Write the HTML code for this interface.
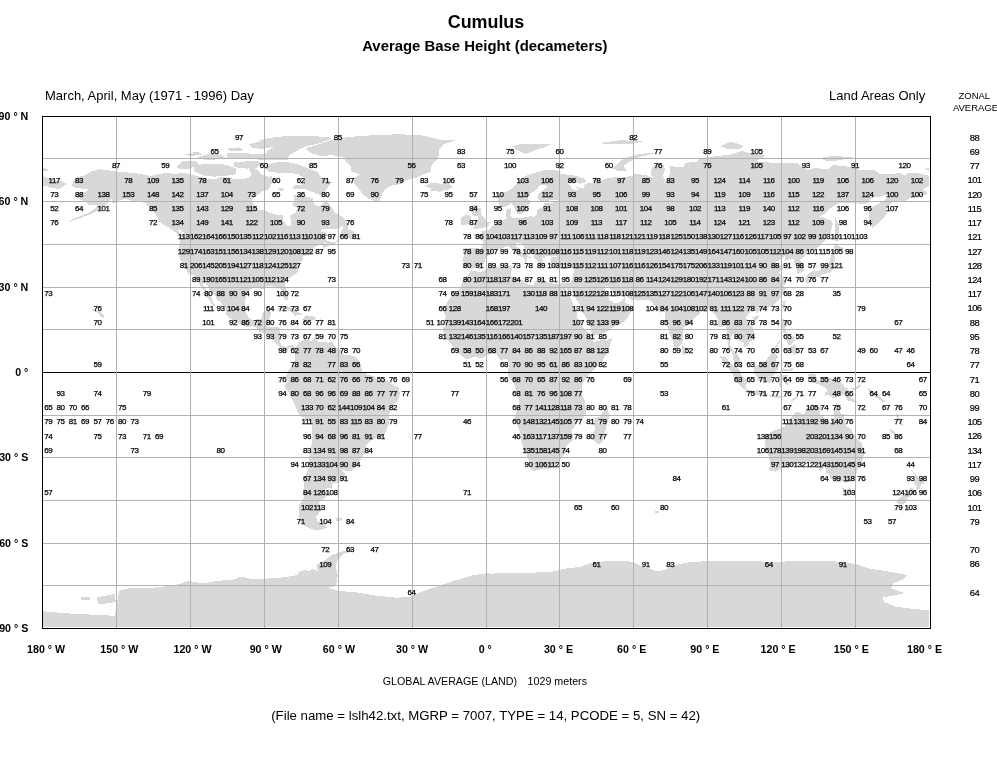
<!DOCTYPE html>
<html lang="en"><head><meta charset="utf-8"><title>Cumulus - Average Base Height (decameters)</title>
<style>
html,body{margin:0;padding:0;background:#fff;}
body{width:997px;height:760px;overflow:hidden;position:relative;font-family:"Liberation Sans",Arial,sans-serif;color:#000;}
svg{will-change:transform;filter:grayscale(1);position:absolute;left:0;top:0;display:block;}
.t1{font:bold 17.9px "Liberation Sans",sans-serif;}
.t2{font:bold 14.9px "Liberation Sans",sans-serif;}
.t3{font:13px "Liberation Sans",sans-serif;}
.t4{font:13.22px "Liberation Sans",sans-serif;}
.ax{font:bold 10.67px "Liberation Sans",sans-serif;}
.sm{font:10.7px "Liberation Sans",sans-serif;}
.zh{font:9.5px "Liberation Sans",sans-serif;}
.n{font:8px "Liberation Sans",sans-serif;letter-spacing:-0.45px;stroke:#000;stroke-width:0.25px;}
.z{font:9.4px "Liberation Sans",sans-serif;letter-spacing:-0.55px;stroke:#000;stroke-width:0.2px;}
</style></head><body>
<svg width="997" height="760" viewBox="0 0 997 760">
<rect x="0" y="0" width="997" height="760" fill="#ffffff"/>
<clipPath id="mapclip"><rect x="43" y="117" width="886" height="510"/></clipPath>
<g fill="#d8d8d8" stroke="none" shape-rendering="crispEdges" clip-path="url(#mapclip)">
<polygon points="42.3,611.2 58.1,612.6 76.1,614.0 98.7,614.9 114.5,615.8 116.7,604.5 119.0,590.9 130.3,587.8 152.8,587.8 175.4,585.1 188.9,581.0 202.5,583.3 220.5,580.6 243.1,578.7 265.7,578.7 283.7,577.4 297.3,575.1 299.5,571.5 306.3,569.7 310.8,572.9 317.6,570.6 316.2,565.2 322.1,561.6 328.9,558.0 335.6,554.8 341.5,551.7 343.3,554.8 337.9,559.3 335.6,566.1 337.9,575.1 335.6,584.2 328.9,587.8 337.9,590.9 355.9,592.3 374.0,595.4 396.6,597.7 410.1,596.8 423.6,590.9 437.2,586.4 455.2,580.6 473.3,575.1 490.0,572.9 490.0,632.0 40.0,632.0 40.0,611.2"/>
<polygon points="80.6,596.8 89.6,596.8 89.6,600.4 80.6,600.4"/>
<polygon points="96.4,597.7 114.5,594.1 115.8,602.2 98.7,604.5"/>
<polygon points="485.0,574.2 503.1,572.9 530.1,572.9 552.7,571.5 566.2,568.4 579.8,567.0 593.3,562.5 611.4,560.7 624.9,560.7 633.9,562.5 640.7,566.1 658.8,571.5 665.5,569.7 674.6,565.2 688.1,562.5 710.7,560.7 737.8,560.7 764.8,561.6 782.9,561.6 800.9,560.7 819.0,560.7 837.0,561.6 855.1,563.9 868.6,568.4 882.2,570.6 895.7,572.9 907.0,575.1 902.5,579.6 893.5,583.3 891.2,588.7 898.0,590.9 904.8,593.2 893.5,595.4 882.2,597.7 884.4,602.2 895.7,606.7 913.8,609.0 929.6,610.3 940.9,611.2 940.9,632.0 485.0,632.0"/>
<polygon points="318.9,586.6 317.2,579.9 320.5,573.2 319.7,568.2 322.2,563.3 327.2,558.3 332.2,554.9 338.9,552.1 345.5,550.6 353.0,548.9 353.8,549.9 345.5,553.3 338.9,555.8 335.5,558.6 334.2,563.3 335.5,569.9 337.5,576.6 336.4,583.2 333.9,587.4"/>
<polygon points="298.1,573.6 303.9,570.9 308.9,571.6 312.2,568.7 315.9,570.7 318.2,575.7 315.5,579.4 305.6,580.2 298.9,578.6"/>
<polygon points="234.0,581.9 239.0,576.6 247.3,577.9 252.3,579.9 265.6,579.9 278.9,579.6 288.9,578.2 295.6,577.4 298.9,579.9 298.9,586.6 234.0,586.6"/>
<polygon points="71.6,185.4 75.3,177.7 83.9,175.7 91.3,171.5 99.9,169.2 111.0,170.6 120.8,172.0 133.2,172.9 140.6,174.0 150.4,176.0 157.8,174.3 167.7,172.9 175.1,174.3 180.0,172.9 187.4,173.5 197.2,176.0 204.6,178.0 209.5,179.1 216.9,178.9 219.4,177.2 226.8,177.7 236.6,179.1 244.0,178.6 249.0,177.7 251.4,174.3 249.0,168.6 253.9,167.2 258.8,171.5 263.8,175.7 268.7,176.6 271.6,176.3 272.4,180.0 271.6,184.3 270.4,186.5 268.7,189.4 263.8,190.5 258.8,194.2 253.9,197.1 251.9,201.3 253.9,205.0 257.6,209.9 263.8,209.9 269.9,212.7 276.1,214.7 282.7,215.3 283.5,221.2 285.9,224.1 288.4,226.4 290.9,225.5 290.9,218.4 289.6,215.6 295.8,212.7 297.0,208.4 292.1,205.0 294.5,201.3 293.3,194.8 300.7,194.8 308.1,197.1 313.0,198.5 314.3,204.2 319.2,206.2 324.1,202.8 326.6,200.2 331.5,207.0 335.2,212.7 342.6,217.0 347.5,222.7 347.5,225.5 341.4,226.4 337.7,229.2 327.8,229.2 321.7,229.2 320.4,231.8 326.6,232.6 326.6,235.5 324.1,236.9 326.6,240.6 330.3,241.7 335.2,242.3 337.7,238.9 337.7,241.7 335.2,243.4 329.0,245.4 322.9,248.3 322.9,245.4 326.6,243.1 320.4,244.0 315.5,246.8 311.8,249.1 310.6,251.7 313.0,253.4 308.1,254.8 303.2,256.5 302.7,259.6 299.5,262.5 298.2,266.8 298.7,269.6 297.0,273.0 293.3,275.6 289.6,278.1 285.9,281.5 284.7,285.2 287.2,292.4 288.4,296.6 287.6,300.0 285.4,300.3 283.5,296.6 281.5,292.4 281.5,289.5 278.5,286.7 274.8,287.2 271.1,285.5 266.2,285.8 265.0,288.9 261.3,288.7 255.1,287.5 251.4,288.9 246.5,292.9 245.8,298.0 244.5,303.7 244.5,308.6 246.5,313.7 249.0,317.4 252.7,320.2 257.6,319.1 261.3,318.5 262.5,313.7 263.8,311.7 269.9,310.8 271.6,312.8 269.9,318.0 268.7,320.8 267.4,325.1 267.4,327.1 273.6,327.1 278.5,327.1 280.5,329.3 279.8,335.0 279.5,340.7 281.5,344.7 283.5,346.4 286.4,346.7 289.6,344.7 293.3,345.5 295.0,347.8 294.5,350.7 292.6,348.7 289.6,347.0 287.6,351.2 284.7,350.7 281.0,348.4 279.3,346.4 276.1,343.6 274.1,341.3 272.4,337.9 269.9,335.0 267.4,334.5 263.8,333.0 260.1,332.2 256.4,327.9 252.7,325.9 249.0,327.3 244.0,325.9 239.1,323.6 234.2,320.8 229.3,318.0 225.6,314.5 226.1,310.8 224.3,306.6 220.6,302.3 216.2,298.9 215.7,296.1 213.2,293.8 209.5,290.1 207.1,285.2 205.8,282.4 202.6,281.5 202.9,285.2 205.8,289.5 208.3,293.8 211.3,298.0 213.2,302.3 215.7,306.0 214.5,306.9 210.8,302.9 209.1,299.5 205.8,295.8 202.6,293.2 204.6,290.9 200.9,286.7 198.5,282.4 196.7,279.3 193.5,275.3 188.6,273.9 185.4,268.7 183.7,264.8 180.5,259.6 179.2,256.8 180.0,252.5 179.2,248.3 180.0,240.6 178.3,234.6 182.4,234.9 183.7,236.9 183.7,232.6 180.0,229.8 173.8,228.6 168.9,227.5 162.7,224.1 159.0,221.2 157.8,217.8 155.3,214.1 152.9,211.3 149.2,207.0 146.7,205.0 145.5,203.3 140.6,201.9 133.2,201.3 125.8,199.1 119.6,199.9 115.9,202.8 111.5,203.6 112.2,198.5 107.3,202.8 104.8,205.6 99.9,209.0 95.0,212.1 90.0,214.4 83.9,216.7 79.0,218.4 74.0,220.1 67.9,222.4 69.1,221.0 74.0,218.7 79.0,216.7 83.9,214.7 88.8,212.7 95.0,209.0 97.4,205.0 93.7,205.0 87.6,204.7 86.3,201.3 80.2,199.9 76.5,196.2 79.0,192.8 86.3,191.4 88.8,188.5 81.4,188.5 75.3,187.7"/>
<polygon points="305.6,148.4 319.2,144.2 332.7,139.6 347.5,137.0 367.2,135.6 399.3,134.2 423.9,135.6 441.1,140.2 455.9,140.2 443.6,144.4 438.7,150.1 438.7,155.8 436.2,160.1 431.3,165.8 431.3,171.5 423.9,174.3 416.5,177.7 406.7,180.0 399.3,184.3 391.9,185.4 385.7,188.5 382.0,194.2 379.6,200.8 374.6,201.3 368.5,198.5 362.3,194.2 358.6,188.5 353.7,182.8 353.7,178.6 359.8,174.3 351.2,171.5 351.2,167.2 347.5,162.9 342.6,157.2 332.7,155.3 320.4,155.8 310.6,153.0"/>
<polygon points="288.4,162.4 298.2,164.4 308.1,168.6 318.0,172.0 321.7,178.6 332.7,182.3 327.8,187.1 324.1,192.8 322.9,195.6 318.0,194.2 310.6,191.4 303.2,188.5 293.3,188.5 293.3,185.7 303.2,184.3 305.6,178.6 298.2,174.3 290.9,172.9 278.5,172.9 268.7,171.5 265.0,168.6 266.2,164.4 276.1,162.4"/>
<polygon points="194.8,165.8 204.6,163.8 219.4,163.8 226.8,164.9 236.6,168.6 235.4,174.3 226.8,175.7 214.5,176.6 204.6,175.7 197.2,172.9 193.5,170.0"/>
<polygon points="176.3,167.2 182.4,160.7 194.8,160.9 199.7,164.4 189.8,168.6 181.2,169.2"/>
<polygon points="197.2,157.2 207.1,154.4 219.4,154.4 225.6,157.2 219.4,159.2 207.1,160.1 199.7,158.7"/>
<polygon points="234.2,162.1 256.4,160.9 262.5,163.5 256.4,167.8 246.5,168.6 234.2,167.2"/>
<polygon points="249.0,153.5 258.8,154.4 268.7,154.4 288.4,156.7 288.4,159.8 273.6,160.4 258.8,159.8 249.0,157.2"/>
<polygon points="229.3,154.4 244.0,153.5 246.5,158.1 236.6,158.7 229.3,157.2"/>
<polygon points="266.2,155.0 276.1,155.0 288.4,155.3 293.3,153.0 300.7,148.7 308.1,145.9 322.9,142.2 332.7,137.9 313.0,135.9 288.4,135.9 268.7,137.9 258.8,140.7 263.8,144.4 273.6,147.3 268.7,150.1 266.2,153.0"/>
<polygon points="249.0,144.4 258.8,141.6 268.7,143.6 271.1,147.3 261.3,149.3 251.4,147.3"/>
<polygon points="184.9,154.4 197.2,151.6 202.2,154.4 189.8,156.4"/>
<polygon points="226.8,148.7 239.1,147.3 244.0,150.1 231.7,151.6"/>
<polygon points="277.3,189.4 281.0,187.4 284.7,189.1 282.2,191.1"/>
<polygon points="339.4,236.6 343.8,225.5 348.8,225.5 347.5,229.8 353.7,231.2 355.4,236.9 352.4,238.9 347.5,238.3 342.6,236.3"/>
<polygon points="169.4,227.5 177.5,229.2 181.2,234.3 177.5,233.5 171.4,229.8"/>
<polygon points="425.1,185.7 431.3,182.8 441.1,183.7 448.5,183.4 452.2,187.1 448.5,189.4 439.9,191.7 430.1,190.5 431.3,188.5 426.4,187.1"/>
<polygon points="276.1,310.0 281.0,306.6 287.2,306.3 295.8,310.6 302.7,314.5 294.5,315.7 293.3,313.1 285.9,309.4 281.0,308.9"/>
<polygon points="301.9,319.9 305.6,315.4 313.0,315.7 316.7,319.1 311.8,320.2 308.1,320.5"/>
<polygon points="292.6,319.7 297.5,320.2 295.8,321.4"/>
<polygon points="319.9,319.4 323.9,319.7 322.9,321.1 319.9,320.8"/>
<polygon points="295.0,347.8 299.5,342.1 301.9,340.7 306.9,338.4 309.3,336.7 308.6,340.7 310.6,341.3 313.0,339.3 313.0,337.3 316.7,340.1 318.0,342.1 322.9,341.8 327.8,342.7 332.7,341.6 333.2,343.6 335.7,347.8 340.1,349.2 343.8,354.9 350.0,355.2 356.1,357.2 358.6,359.8 361.1,366.3 362.3,370.6 362.3,372.0 366.0,373.4 367.2,374.8 374.6,376.3 377.1,379.7 383.2,380.2 389.4,382.0 394.3,385.7 398.8,387.6 399.8,393.3 398.8,399.0 394.3,404.7 390.6,409.0 389.4,414.7 389.4,422.6 386.9,428.9 384.5,434.6 382.0,437.4 375.9,438.0 370.9,440.8 366.5,445.4 365.8,451.6 362.3,457.3 358.6,462.5 354.2,468.1 351.2,471.0 346.3,471.0 341.9,468.7 345.1,474.4 343.8,480.1 338.9,482.4 332.7,482.9 332.0,488.1 325.3,488.6 325.3,492.9 328.6,493.5 324.6,498.6 319.7,501.4 319.2,504.3 323.4,507.1 319.2,512.8 316.0,517.1 317.5,521.0 311.8,521.9 309.3,525.0 301.9,522.8 299.2,518.5 298.5,511.4 298.7,505.7 301.9,501.4 304.4,495.7 303.2,491.5 303.9,485.8 304.9,478.7 306.9,473.0 309.3,465.9 309.3,457.3 310.6,450.2 311.8,443.1 312.5,434.6 312.3,424.6 308.1,420.4 300.7,416.1 297.5,411.8 295.3,406.1 292.1,399.0 288.9,392.8 285.4,389.1 285.2,384.2 288.4,381.4 286.4,378.3 286.4,374.8 288.4,370.6 291.3,367.7 294.5,361.2 294.8,356.4 294.5,352.1 293.3,348.4"/>
<polygon points="310.6,521.3 317.2,520.8 321.7,523.9 327.3,527.0 324.6,529.0 318.0,530.4 310.6,529.0 304.9,526.2 302.4,522.2"/>
<polygon points="335.2,517.9 342.6,517.9 341.4,520.5 336.4,520.5"/>
<polygon points="471.0,270.2 480.6,272.2 488.0,268.2 492.9,267.0 500.3,266.8 507.7,266.2 510.9,266.2 512.6,267.3 511.4,271.0 510.6,274.7 512.6,276.7 516.3,278.4 523.2,280.1 524.2,282.7 529.9,285.2 534.3,285.2 534.8,281.0 538.5,278.4 542.2,279.3 547.1,281.8 552.0,283.3 557.0,284.1 561.9,282.4 565.1,283.0 569.8,283.0 571.5,288.1 570.0,292.4 568.0,290.9 565.8,286.7 565.6,288.1 568.0,292.4 570.5,298.0 573.0,303.7 573.5,306.6 576.7,310.8 577.2,318.0 580.4,320.8 582.8,327.9 586.5,330.8 590.2,335.0 592.2,336.4 591.9,339.3 593.9,342.1 601.3,340.1 606.2,339.9 611.7,338.4 611.4,342.1 608.7,349.2 606.2,354.9 602.5,360.6 598.8,364.9 593.9,369.2 589.0,374.8 586.5,377.7 584.1,380.5 582.1,386.2 581.6,391.9 582.8,396.2 585.3,401.9 585.5,407.6 585.5,414.7 581.6,419.8 576.7,422.6 573.0,428.3 571.2,430.3 572.7,434.6 573.0,440.3 568.0,444.0 566.3,446.0 566.3,451.6 562.6,456.2 559.4,460.7 555.7,464.7 552.0,467.9 548.3,468.7 542.2,468.7 534.8,471.0 530.8,469.6 530.3,464.4 528.1,458.8 526.2,453.4 523.0,447.4 521.2,440.3 521.0,434.6 517.0,424.6 514.6,418.9 516.3,411.8 519.3,403.3 518.3,397.6 515.6,389.1 514.6,384.8 510.1,379.1 507.7,374.3 508.4,369.2 509.4,363.5 507.2,359.2 502.7,359.5 499.8,359.8 496.6,354.1 491.7,354.1 488.0,355.2 481.8,358.3 478.1,357.5 473.2,357.2 467.0,359.5 462.1,356.4 457.2,352.1 453.0,347.0 451.5,344.1 448.5,340.7 444.4,336.7 444.1,332.7 442.4,330.2 444.8,326.5 445.3,319.4 445.6,316.5 443.6,312.3 446.1,305.2 449.0,299.5 452.7,293.8 458.4,290.1 461.4,286.7 461.6,282.4 464.6,277.3 468.7,275.0"/>
<polygon points="607.0,406.1 609.4,416.1 607.5,421.8 605.7,428.9 602.0,442.5 597.6,444.5 593.4,440.3 592.2,434.6 594.9,428.9 593.9,421.8 595.1,418.1 600.1,416.4 603.8,410.4"/>
<polygon points="462.1,266.8 463.6,262.5 462.3,261.1 463.8,255.4 462.8,249.7 465.8,247.7 473.2,248.3 481.1,248.6 482.5,245.4 482.5,241.2 479.3,237.7 473.9,235.5 474.4,233.8 481.6,233.5 481.1,230.6 486.0,231.2 489.4,229.2 491.7,226.6 495.4,224.1 497.3,221.2 502.7,219.8 506.7,219.0 506.0,215.6 505.7,210.4 506.7,209.6 511.4,207.9 510.9,212.7 510.1,215.6 512.6,218.4 516.3,217.3 520.5,218.4 526.2,217.0 531.1,216.1 533.5,217.3 537.2,214.1 537.2,209.9 540.9,207.9 545.4,209.3 543.4,203.6 552.0,202.8 559.4,201.3 555.7,199.6 547.1,200.8 541.9,201.6 538.0,199.1 538.5,194.2 540.9,191.4 547.1,187.1 545.9,184.8 539.7,185.4 537.7,188.5 531.1,193.4 528.1,197.1 527.9,199.3 531.8,201.3 529.9,204.2 526.2,205.3 526.2,209.9 524.9,212.1 520.7,214.1 517.5,214.4 516.3,211.6 513.1,205.6 511.4,203.3 506.4,206.5 502.7,207.0 499.1,204.7 497.8,199.9 497.8,195.6 502.7,192.8 508.9,190.8 512.6,187.7 516.3,184.3 520.0,180.0 523.7,177.2 529.9,174.3 537.2,172.3 544.6,170.0 549.6,169.8 555.7,170.0 561.9,172.0 559.4,173.7 566.8,174.6 575.4,175.7 585.3,179.1 586.5,182.0 580.4,183.7 569.3,182.3 566.8,182.8 571.2,187.1 571.2,188.8 576.7,190.2 578.6,189.1 575.4,187.1 579.9,187.7 584.1,188.2 584.1,184.8 589.0,182.8 593.9,183.7 592.7,178.6 594.4,176.9 598.8,178.6 600.1,182.0 603.3,179.7 608.7,178.0 616.1,177.2 618.5,178.0 625.9,176.9 633.3,175.7 634.6,173.5 643.2,174.9 648.1,175.7 650.6,177.2 654.3,177.7 650.6,174.3 650.6,170.0 654.3,164.9 658.0,163.8 664.1,164.9 664.9,170.0 662.9,175.7 665.4,181.4 662.9,183.4 667.8,181.4 669.1,177.2 670.3,170.0 669.1,165.8 675.2,166.6 683.8,166.6 685.1,162.9 697.4,161.5 699.9,158.7 709.7,157.0 722.0,155.5 731.9,154.4 741.7,151.0 749.1,153.0 761.5,154.4 765.2,156.4 756.5,160.9 761.5,162.1 776.2,162.9 789.8,162.9 798.4,163.5 802.1,167.8 808.3,170.0 813.2,168.3 823.1,168.6 829.2,168.6 832.9,164.9 845.2,166.3 855.1,167.8 860.0,170.3 874.8,170.0 879.7,173.7 892.0,174.3 899.4,172.9 905.6,175.7 906.8,172.9 919.1,173.5 929.0,175.7 929.0,186.3 924.1,188.0 922.8,189.1 927.3,192.8 926.5,194.8 916.7,196.2 909.3,198.5 904.4,201.3 897.0,200.8 892.0,201.9 888.3,207.0 885.9,208.4 887.1,212.7 885.4,215.6 880.5,221.5 876.8,225.2 872.1,227.8 868.9,223.2 868.6,215.6 868.6,210.4 872.3,207.6 877.3,204.2 883.4,200.8 888.3,197.1 889.6,194.2 879.7,196.5 877.3,197.1 871.1,197.9 867.4,203.3 860.0,204.5 857.5,202.8 850.2,203.3 837.8,203.3 830.4,208.4 824.3,214.1 819.4,216.4 825.5,218.4 831.7,220.7 832.9,224.1 831.7,228.4 830.4,234.0 826.7,238.3 820.6,245.4 813.2,250.3 808.3,251.1 805.3,254.0 804.6,256.8 799.6,259.6 802.1,262.5 804.3,266.8 804.1,271.0 799.6,273.3 796.7,273.9 797.2,268.2 796.0,264.8 793.5,262.5 793.5,259.4 791.0,258.8 784.9,261.1 784.9,255.9 778.7,260.5 775.5,261.9 778.2,265.3 782.9,264.5 787.3,266.8 782.4,269.0 779.4,272.4 782.4,276.7 785.6,281.5 785.6,284.4 782.4,285.8 786.1,287.2 784.9,291.5 781.2,296.6 778.7,300.3 773.8,305.2 767.6,308.0 763.9,309.4 758.5,311.4 757.0,314.3 755.8,310.8 751.6,310.6 748.4,313.7 745.9,318.0 747.9,322.2 752.3,326.5 754.6,333.6 754.6,339.3 749.1,342.1 748.4,345.0 744.2,347.5 743.7,343.0 739.3,340.7 736.8,336.4 734.1,333.9 731.9,335.0 730.2,340.7 730.2,345.5 732.6,349.2 734.4,352.7 737.6,354.4 740.3,359.2 740.5,364.0 742.2,368.0 740.3,368.0 735.1,364.0 732.9,357.8 732.4,353.5 729.4,349.8 727.7,349.2 728.2,343.6 728.7,337.9 726.5,330.8 726.0,325.6 720.8,327.1 717.8,326.5 718.3,320.8 715.9,315.7 712.2,311.4 710.9,308.0 708.5,309.4 704.8,310.0 699.9,310.8 699.4,314.5 694.9,317.1 688.3,324.8 683.4,327.9 683.1,334.2 682.4,342.7 680.1,345.5 678.2,347.0 676.5,349.0 674.0,346.4 672.3,339.3 669.8,335.0 668.6,329.3 666.1,323.6 664.9,317.4 664.6,312.3 663.6,311.7 659.9,312.8 655.5,308.6 658.5,306.6 653.8,304.9 651.3,301.7 649.3,299.8 643.2,300.0 637.0,300.6 629.6,299.2 626.4,295.8 624.2,294.9 619.8,296.3 614.9,293.8 610.7,289.5 608.7,286.1 605.7,285.8 603.8,287.2 605.0,290.9 608.7,296.1 609.2,299.5 611.2,301.5 612.4,298.6 612.6,303.2 618.5,303.2 623.5,299.5 624.5,297.2 624.7,302.3 629.6,304.9 632.8,308.0 629.6,313.7 627.7,318.0 624.2,321.1 621.0,323.6 614.1,326.5 606.2,332.2 596.9,335.3 592.7,335.9 591.0,329.9 590.2,325.4 586.5,318.0 582.1,312.3 580.4,305.2 577.2,300.9 573.0,293.8 571.5,288.1 569.8,283.0 571.5,279.6 573.0,275.6 574.0,271.0 574.7,267.6 570.5,267.6 565.6,269.3 560.9,267.3 557.0,268.7 553.0,267.3 550.3,263.1 551.5,259.6 550.1,258.2 553.3,257.1 557.0,256.8 557.2,254.8 562.6,254.8 568.0,252.5 571.7,252.5 575.4,254.8 580.4,255.7 587.8,254.0 587.8,250.8 583.6,248.0 579.1,245.4 577.4,243.1 580.4,241.2 582.1,237.7 577.9,238.9 572.2,240.6 575.4,242.9 573.0,244.0 568.3,245.7 565.6,242.9 568.0,241.2 564.3,239.7 561.4,239.7 558.7,243.1 556.0,247.4 554.2,250.3 554.5,252.8 557.0,254.8 551.3,256.8 549.6,255.9 545.9,255.7 544.1,258.2 541.7,257.1 542.9,261.1 544.6,263.9 542.2,265.0 542.7,268.2 539.7,267.3 538.0,264.5 537.2,261.1 534.3,258.2 533.3,254.0 531.1,251.1 524.9,248.3 522.5,244.6 519.5,242.6 515.8,243.1 516.1,246.3 519.0,248.3 521.2,251.7 524.9,253.1 530.8,257.7 529.9,258.2 527.4,256.8 526.4,259.4 527.6,261.4 525.4,263.3 524.2,263.9 524.9,261.1 523.7,258.2 521.0,256.5 516.3,254.0 512.6,251.1 510.9,248.3 507.2,245.7 504.0,247.4 500.3,249.4 496.6,248.6 492.9,249.1 493.4,252.8 487.7,255.4 485.0,259.6 484.3,263.1 480.6,267.3 474.4,267.6 471.9,269.6 470.0,267.3 467.5,266.2 463.6,266.8"/>
<polygon points="42.0,175.7 51.9,179.4 61.7,181.4 66.6,183.7 62.9,186.5 59.2,189.1 51.9,187.7 45.7,185.7 42.0,186.3"/>
<polygon points="471.5,229.5 476.9,228.9 483.0,227.8 488.9,226.4 489.7,222.1 486.2,221.2 485.0,218.4 481.8,215.6 480.6,212.7 480.6,208.2 476.9,207.9 478.1,205.3 473.2,205.3 470.7,208.4 471.9,212.7 473.7,215.6 477.6,216.1 478.1,219.8 474.4,220.4 475.2,222.7 472.7,224.7 476.9,225.8 474.4,226.9"/>
<polygon points="460.9,224.7 465.8,224.9 470.2,223.5 470.7,219.8 471.7,216.7 469.5,215.0 465.3,215.0 460.9,217.8 461.4,220.4"/>
<polygon points="612.4,168.6 617.3,170.6 627.2,170.9 623.5,165.8 629.6,161.5 638.3,157.2 654.3,153.5 648.1,153.0 633.3,155.3 623.5,158.7 618.5,162.9 613.6,167.2"/>
<polygon points="512.6,145.9 520.0,144.4 534.8,143.6 552.0,143.9 544.6,147.3 537.2,149.3 529.9,152.4 526.2,154.1 520.0,151.6 515.1,148.7"/>
<polygon points="598.8,143.0 621.0,140.2 643.2,141.6 628.4,144.4 608.7,144.4"/>
<polygon points="719.6,145.9 731.9,141.6 744.2,145.9 739.3,149.3 727.0,148.7"/>
<polygon points="823.1,157.2 835.4,155.8 855.1,157.8 845.2,159.2 830.4,161.5 823.1,160.1"/>
<polygon points="835.4,217.5 838.6,224.1 839.1,231.2 837.3,238.3 839.1,241.2 835.4,241.2 835.4,235.5 834.9,228.4 834.6,222.7"/>
<polygon points="830.4,254.0 834.1,249.1 834.9,242.9 839.1,246.3 844.0,248.3 840.3,250.3 837.8,252.5 832.9,251.1"/>
<polygon points="805.8,276.7 805.3,279.6 806.5,283.3 809.0,282.7 810.7,278.7 813.2,278.7 816.4,276.7 820.1,276.7 822.8,274.2 826.7,273.3 830.0,272.4 832.7,270.2 832.9,263.9 835.4,259.4 834.1,254.2 831.2,255.4 830.2,259.6 828.0,263.9 823.8,267.3 822.6,265.9 820.6,269.6 818.9,270.7 813.2,270.7 808.3,273.9"/>
<polygon points="781.7,306.6 783.6,300.3 785.8,300.9 784.6,306.6 783.1,309.4"/>
<polygon points="753.3,317.4 757.8,314.8 759.0,316.5 756.5,319.9 753.6,319.4"/>
<polygon points="682.1,344.4 685.6,347.8 687.0,352.1 685.1,354.6 682.6,354.9 681.9,349.2"/>
<polygon points="781.9,319.4 786.6,319.7 786.8,325.1 785.1,327.9 786.1,332.2 791.0,335.0 791.0,336.4 787.3,333.6 783.6,332.7 781.9,329.9 780.7,325.6"/>
<polygon points="786.1,352.1 789.8,347.5 794.5,344.1 797.2,349.2 796.4,354.1 794.2,354.9 791.0,352.1 789.3,350.7"/>
<polygon points="786.1,338.4 788.6,339.3 793.5,336.4 794.7,340.7 792.3,343.6 788.6,345.5 787.3,342.1"/>
<polygon points="774.3,347.8 779.9,339.9 780.4,342.1 775.7,347.8"/>
<polygon points="754.1,367.7 755.5,366.3 759.7,364.3 763.9,362.9 767.6,358.3 771.3,353.5 773.8,352.1 775.5,354.1 778.7,357.2 776.2,359.8 775.7,363.5 776.2,366.3 778.7,369.2 775.7,370.0 775.0,374.3 772.5,376.3 772.1,382.0 768.8,383.4 767.6,381.7 763.9,381.1 760.7,381.4 757.0,380.0 756.5,376.3 754.1,373.4 754.1,370.6"/>
<polygon points="720.3,356.1 725.7,357.2 728.9,361.2 733.1,365.5 736.3,367.2 740.0,370.3 741.3,374.3 743.2,377.1 746.7,380.5 746.2,388.5 743.2,388.5 738.0,383.9 734.4,379.1 732.6,374.3 729.4,369.7 727.0,365.5 723.3,361.5 720.6,358.1"/>
<polygon points="744.7,391.3 747.2,388.8 752.8,390.8 758.5,390.2 763.2,391.6 767.6,393.9 767.4,396.7 759.0,395.6 752.8,394.2 747.9,393.0"/>
<polygon points="768.8,395.0 775.0,395.3 778.7,395.9 783.6,395.9 788.6,395.6 788.1,397.0 781.2,397.6 776.2,397.6 771.3,397.3"/>
<polygon points="789.8,401.3 793.5,398.2 798.9,395.9 797.2,398.2 792.3,401.0"/>
<polygon points="779.9,387.6 778.7,382.0 778.2,379.7 780.7,372.0 783.1,368.3 788.6,369.4 793.5,367.4 792.3,370.6 788.6,370.9 783.6,370.9 781.7,374.6 784.9,374.6 789.3,374.6 786.1,377.1 784.9,377.7 787.3,381.4 788.6,384.8 786.8,385.7 784.9,383.4 783.6,380.0 781.9,380.5 782.2,387.6"/>
<polygon points="808.3,374.3 812.0,373.1 815.7,374.3 818.1,381.4 825.0,376.3 832.9,379.4 841.5,382.8 845.2,387.6 849.7,389.1 847.7,391.3 851.4,397.6 857.1,401.3 854.6,402.2 847.7,400.4 845.2,395.3 840.3,393.9 836.6,398.2 832.9,397.9 828.0,394.8 825.5,395.6 824.8,392.8 827.5,391.3 825.5,387.6 819.4,384.5 814.4,382.8 812.7,383.4 810.7,380.2 815.2,378.3 810.7,377.7 808.3,376.0"/>
<polygon points="850.9,388.2 855.1,387.6 860.0,383.9 860.8,386.2 856.3,389.6 852.6,389.6"/>
<polygon points="765.6,436.0 766.9,434.6 773.3,430.6 778.7,428.9 784.9,426.6 786.8,423.2 786.6,420.4 789.8,421.5 790.5,418.1 794.7,413.2 798.4,411.5 801.6,414.4 804.6,414.4 805.8,409.5 807.8,407.3 812.0,406.1 812.5,404.4 818.6,406.7 822.6,406.7 820.6,409.5 819.4,414.1 823.1,416.9 828.7,421.5 832.4,421.8 834.4,414.7 834.4,408.4 836.6,402.7 838.8,407.6 839.8,413.0 843.5,414.4 845.2,421.8 846.0,425.8 851.4,429.2 853.9,434.6 857.1,438.8 862.0,444.0 863.0,448.8 864.0,453.6 862.5,460.2 860.5,465.0 858.0,468.7 855.8,474.4 855.1,478.4 850.2,479.8 846.0,482.9 842.8,480.9 839.1,482.4 834.1,480.9 830.4,478.7 829.2,473.8 826.0,473.0 825.5,465.9 823.1,468.7 820.6,471.0 818.9,470.1 816.2,465.9 811.2,463.0 808.3,461.6 803.3,461.9 796.0,463.9 791.0,465.9 789.8,468.4 781.2,468.4 776.2,471.6 771.3,471.0 768.8,469.6 770.6,463.0 768.8,457.3 766.9,451.6 765.2,446.0 765.2,441.7"/>
<polygon points="842.0,488.1 846.5,488.9 850.9,488.3 850.6,491.5 848.9,494.9 845.2,495.7 843.5,492.3"/>
<polygon points="911.0,470.1 915.0,473.0 917.9,476.1 919.1,479.0 924.8,479.2 923.6,483.5 921.1,484.4 919.9,488.6 917.2,490.0 916.2,489.2 916.7,485.8 913.7,483.8 915.7,480.1 915.4,475.8 911.8,471.6"/>
<polygon points="911.0,487.2 915.0,490.0 911.8,494.9 907.6,498.0 906.1,502.6 901.9,504.6 896.0,502.8 898.2,499.1 900.7,497.2 905.6,493.7 908.8,490.3"/>
<polygon points="554.0,255.9 588.2,254.5 588.2,249.7 583.1,237.2 566.8,239.2 559.4,238.9 555.5,246.8 553.7,252.5"/>
<polygon points="42.0,168.3 48.2,168.6 48.2,170.6 42.0,170.6"/>
<polygon points="925.3,168.6 929.0,168.3 929.0,170.6 925.3,170.3"/>
<polygon points="261.3,153.5 288.4,154.1 289.6,157.5 261.3,157.0"/>
<polygon points="226.8,153.3 249.0,152.7 251.4,158.7 226.8,159.0"/>
<polygon points="90.8,308.9 93.2,308.6 97.4,310.6 101.1,312.6 104.1,316.2 102.1,318.2 100.6,315.7 97.9,312.8 92.3,310.0"/>
<polygon points="654.8,510.5 659.2,511.4 658.7,513.4 655.3,513.1"/>
<polygon points="867.4,387.6 869.9,389.1 874.8,392.5 879.7,396.2 885.1,401.3 884.2,402.7 878.5,399.0 873.6,395.6 868.6,391.3"/>
<polygon points="895.7,413.2 897.7,414.1 900.2,418.9 903.1,425.5 901.9,426.0 898.2,419.8 896.0,416.1"/>
<polygon points="889.6,428.9 892.0,429.7 895.7,433.2 897.5,435.7 895.7,436.0 892.0,433.2 889.6,430.3"/>
<polygon points="922.3,421.2 925.8,421.8 925.8,424.1 922.3,423.8"/>
<g fill="#ffffff">
</g>
</g>
<line x1="42" y1="372.5" x2="931" y2="372.5" stroke="#000" stroke-width="1" shape-rendering="crispEdges"/>
<g stroke="#b2b2b2" stroke-width="1" shape-rendering="crispEdges">
<line x1="116.5" y1="116" x2="116.5" y2="628"/><line x1="190.5" y1="116" x2="190.5" y2="628"/><line x1="264.5" y1="116" x2="264.5" y2="628"/><line x1="338.5" y1="116" x2="338.5" y2="628"/><line x1="412.5" y1="116" x2="412.5" y2="628"/><line x1="486.5" y1="116" x2="486.5" y2="628"/><line x1="559.5" y1="116" x2="559.5" y2="628"/><line x1="633.5" y1="116" x2="633.5" y2="628"/><line x1="707.5" y1="116" x2="707.5" y2="628"/><line x1="781.5" y1="116" x2="781.5" y2="628"/><line x1="855.5" y1="116" x2="855.5" y2="628"/><line x1="42" y1="158.5" x2="930" y2="158.5"/><line x1="42" y1="201.5" x2="930" y2="201.5"/><line x1="42" y1="244.5" x2="930" y2="244.5"/><line x1="42" y1="287.5" x2="930" y2="287.5"/><line x1="42" y1="329.5" x2="930" y2="329.5"/><line x1="42" y1="415.5" x2="930" y2="415.5"/><line x1="42" y1="457.5" x2="930" y2="457.5"/><line x1="42" y1="500.5" x2="930" y2="500.5"/><line x1="42" y1="543.5" x2="930" y2="543.5"/><line x1="42" y1="585.5" x2="930" y2="585.5"/>
</g>
<g stroke="#000" stroke-width="1" shape-rendering="crispEdges" fill="none"><rect x="42.5" y="116.5" width="888" height="512"/></g>
<text class="t1" x="486" y="27.6" text-anchor="middle">Cumulus</text>
<text class="t2" x="484.8" y="50.7" text-anchor="middle">Average Base Height (decameters)</text>
<text class="t3" x="45" y="100">March, April, May (1971 - 1996) Day</text>
<text class="t3" x="925.2" y="100" text-anchor="end">Land Areas Only</text>
<text class="zh" x="974.3" y="98.5" text-anchor="middle">ZONAL</text>
<text class="zh" x="975.5" y="110.5" text-anchor="middle">AVERAGE</text>
<text class="ax" x="28.3" y="119.9" text-anchor="end">90 ° N</text><text class="ax" x="28.3" y="205.2" text-anchor="end">60 ° N</text><text class="ax" x="28.3" y="290.6" text-anchor="end">30 ° N</text><text class="ax" x="28.3" y="375.9" text-anchor="end">0 °</text><text class="ax" x="28.3" y="461.2" text-anchor="end">30 ° S</text><text class="ax" x="28.3" y="546.6" text-anchor="end">60 ° S</text><text class="ax" x="28.3" y="631.9" text-anchor="end">90 ° S</text>
<text class="ax" x="46.1" y="652.6" text-anchor="middle">180 ° W</text><text class="ax" x="119.3" y="652.6" text-anchor="middle">150 ° W</text><text class="ax" x="192.5" y="652.6" text-anchor="middle">120 ° W</text><text class="ax" x="265.7" y="652.6" text-anchor="middle">90 ° W</text><text class="ax" x="338.9" y="652.6" text-anchor="middle">60 ° W</text><text class="ax" x="412.1" y="652.6" text-anchor="middle">30 ° W</text><text class="ax" x="485.3" y="652.6" text-anchor="middle">0 °</text><text class="ax" x="558.5" y="652.6" text-anchor="middle">30 ° E</text><text class="ax" x="631.7" y="652.6" text-anchor="middle">60 ° E</text><text class="ax" x="704.9" y="652.6" text-anchor="middle">90 ° E</text><text class="ax" x="778.1" y="652.6" text-anchor="middle">120 ° E</text><text class="ax" x="851.3" y="652.6" text-anchor="middle">150 ° E</text><text class="ax" x="924.5" y="652.6" text-anchor="middle">180 ° E</text>
<text class="sm" x="382.8" y="685.2">GLOBAL AVERAGE (LAND) <tspan x="527.6">1029 meters</tspan></text>
<text class="t4" x="485.7" y="720.3" text-anchor="middle">(File name = lslh42.txt, MGRP = 7007, TYPE = 14, PCODE = 5, SN = 42)</text>
<g class="n" text-anchor="middle">
<text x="239.1" y="139.8">97</text><text x="337.7" y="139.8">85</text><text x="633.3" y="139.8">82</text>
<text x="214.5" y="154.1">65</text><text x="460.9" y="154.1">83</text><text x="510.1" y="154.1">75</text><text x="559.4" y="154.1">60</text><text x="658.0" y="154.1">77</text><text x="707.2" y="154.1">89</text><text x="756.5" y="154.1">105</text>
<text x="115.9" y="168.3">87</text><text x="165.2" y="168.3">59</text><text x="263.8" y="168.3">60</text><text x="313.0" y="168.3">85</text><text x="411.6" y="168.3">56</text><text x="460.9" y="168.3">63</text><text x="510.1" y="168.3">100</text><text x="559.4" y="168.3">92</text><text x="608.7" y="168.3">60</text><text x="658.0" y="168.3">76</text><text x="707.2" y="168.3">76</text><text x="756.5" y="168.3">105</text><text x="805.8" y="168.3">93</text><text x="855.1" y="168.3">91</text><text x="904.4" y="168.3">120</text>
<text x="54.3" y="182.5">117</text><text x="79.0" y="182.5">83</text><text x="128.2" y="182.5">78</text><text x="152.9" y="182.5">109</text><text x="177.5" y="182.5">135</text><text x="202.2" y="182.5">78</text><text x="226.8" y="182.5">61</text><text x="276.1" y="182.5">60</text><text x="300.7" y="182.5">62</text><text x="325.3" y="182.5">71</text><text x="350.0" y="182.5">87</text><text x="374.6" y="182.5">76</text><text x="399.3" y="182.5">79</text><text x="423.9" y="182.5">83</text><text x="448.5" y="182.5">106</text><text x="522.5" y="182.5">103</text><text x="547.1" y="182.5">106</text><text x="571.7" y="182.5">86</text><text x="596.4" y="182.5">78</text><text x="621.0" y="182.5">97</text><text x="645.7" y="182.5">85</text><text x="670.3" y="182.5">83</text><text x="694.9" y="182.5">95</text><text x="719.6" y="182.5">124</text><text x="744.2" y="182.5">114</text><text x="768.8" y="182.5">116</text><text x="793.5" y="182.5">100</text><text x="818.1" y="182.5">119</text><text x="842.8" y="182.5">106</text><text x="867.4" y="182.5">106</text><text x="892.0" y="182.5">120</text><text x="916.7" y="182.5">102</text>
<text x="54.3" y="196.7">73</text><text x="79.0" y="196.7">88</text><text x="103.6" y="196.7">138</text><text x="128.2" y="196.7">153</text><text x="152.9" y="196.7">148</text><text x="177.5" y="196.7">142</text><text x="202.2" y="196.7">137</text><text x="226.8" y="196.7">104</text><text x="251.4" y="196.7">73</text><text x="276.1" y="196.7">65</text><text x="300.7" y="196.7">36</text><text x="325.3" y="196.7">80</text><text x="350.0" y="196.7">69</text><text x="374.6" y="196.7">90</text><text x="423.9" y="196.7">75</text><text x="448.5" y="196.7">95</text><text x="473.2" y="196.7">57</text><text x="497.8" y="196.7">110</text><text x="522.5" y="196.7">115</text><text x="547.1" y="196.7">112</text><text x="571.7" y="196.7">93</text><text x="596.4" y="196.7">95</text><text x="621.0" y="196.7">106</text><text x="645.7" y="196.7">99</text><text x="670.3" y="196.7">93</text><text x="694.9" y="196.7">94</text><text x="719.6" y="196.7">119</text><text x="744.2" y="196.7">109</text><text x="768.8" y="196.7">116</text><text x="793.5" y="196.7">115</text><text x="818.1" y="196.7">122</text><text x="842.8" y="196.7">137</text><text x="867.4" y="196.7">124</text><text x="892.0" y="196.7">100</text><text x="916.7" y="196.7">100</text>
<text x="54.3" y="210.9">52</text><text x="79.0" y="210.9">64</text><text x="103.6" y="210.9">101</text><text x="152.9" y="210.9">85</text><text x="177.5" y="210.9">135</text><text x="202.2" y="210.9">143</text><text x="226.8" y="210.9">129</text><text x="251.4" y="210.9">115</text><text x="300.7" y="210.9">72</text><text x="325.3" y="210.9">79</text><text x="473.2" y="210.9">84</text><text x="497.8" y="210.9">95</text><text x="522.5" y="210.9">105</text><text x="547.1" y="210.9">91</text><text x="571.7" y="210.9">108</text><text x="596.4" y="210.9">108</text><text x="621.0" y="210.9">101</text><text x="645.7" y="210.9">104</text><text x="670.3" y="210.9">98</text><text x="694.9" y="210.9">102</text><text x="719.6" y="210.9">113</text><text x="744.2" y="210.9">119</text><text x="768.8" y="210.9">140</text><text x="793.5" y="210.9">112</text><text x="818.1" y="210.9">116</text><text x="842.8" y="210.9">106</text><text x="867.4" y="210.9">96</text><text x="892.0" y="210.9">107</text>
<text x="54.3" y="225.2">76</text><text x="152.9" y="225.2">72</text><text x="177.5" y="225.2">134</text><text x="202.2" y="225.2">149</text><text x="226.8" y="225.2">141</text><text x="251.4" y="225.2">122</text><text x="276.1" y="225.2">105</text><text x="300.7" y="225.2">90</text><text x="325.3" y="225.2">93</text><text x="350.0" y="225.2">76</text><text x="448.5" y="225.2">78</text><text x="473.2" y="225.2">87</text><text x="497.8" y="225.2">93</text><text x="522.5" y="225.2">96</text><text x="547.1" y="225.2">103</text><text x="571.7" y="225.2">109</text><text x="596.4" y="225.2">113</text><text x="621.0" y="225.2">117</text><text x="645.7" y="225.2">112</text><text x="670.3" y="225.2">105</text><text x="694.9" y="225.2">114</text><text x="719.6" y="225.2">124</text><text x="744.2" y="225.2">121</text><text x="768.8" y="225.2">123</text><text x="793.5" y="225.2">112</text><text x="818.1" y="225.2">109</text><text x="842.8" y="225.2">98</text><text x="867.4" y="225.2">94</text>
<text x="183.7" y="239.4">113</text><text x="196.0" y="239.4">162</text><text x="208.3" y="239.4">164</text><text x="220.6" y="239.4">166</text><text x="233.0" y="239.4">150</text><text x="245.3" y="239.4">135</text><text x="257.6" y="239.4">112</text><text x="269.9" y="239.4">102</text><text x="282.2" y="239.4">116</text><text x="294.5" y="239.4">113</text><text x="306.9" y="239.4">110</text><text x="319.2" y="239.4">108</text><text x="331.5" y="239.4">97</text><text x="343.8" y="239.4">66</text><text x="356.1" y="239.4">81</text><text x="467.0" y="239.4">78</text><text x="479.3" y="239.4">86</text><text x="491.7" y="239.4">104</text><text x="504.0" y="239.4">103</text><text x="516.3" y="239.4">117</text><text x="528.6" y="239.4">113</text><text x="540.9" y="239.4">109</text><text x="553.3" y="239.4">97</text><text x="565.6" y="239.4">111</text><text x="577.9" y="239.4">106</text><text x="590.2" y="239.4">111</text><text x="602.5" y="239.4">118</text><text x="614.9" y="239.4">118</text><text x="627.2" y="239.4">121</text><text x="639.5" y="239.4">121</text><text x="651.8" y="239.4">119</text><text x="664.1" y="239.4">118</text><text x="676.5" y="239.4">125</text><text x="688.8" y="239.4">150</text><text x="701.1" y="239.4">138</text><text x="713.4" y="239.4">130</text><text x="725.7" y="239.4">127</text><text x="738.0" y="239.4">116</text><text x="750.4" y="239.4">126</text><text x="762.7" y="239.4">117</text><text x="775.0" y="239.4">105</text><text x="787.3" y="239.4">97</text><text x="799.6" y="239.4">102</text><text x="812.0" y="239.4">99</text><text x="824.3" y="239.4">103</text><text x="836.6" y="239.4">101</text><text x="848.9" y="239.4">101</text><text x="861.2" y="239.4">103</text>
<text x="183.7" y="253.6">129</text><text x="196.0" y="253.6">174</text><text x="208.3" y="253.6">163</text><text x="220.6" y="253.6">151</text><text x="233.0" y="253.6">156</text><text x="245.3" y="253.6">134</text><text x="257.6" y="253.6">138</text><text x="269.9" y="253.6">129</text><text x="282.2" y="253.6">120</text><text x="294.5" y="253.6">108</text><text x="306.9" y="253.6">122</text><text x="319.2" y="253.6">87</text><text x="331.5" y="253.6">95</text><text x="467.0" y="253.6">78</text><text x="479.3" y="253.6">89</text><text x="491.7" y="253.6">107</text><text x="504.0" y="253.6">99</text><text x="516.3" y="253.6">78</text><text x="528.6" y="253.6">106</text><text x="540.9" y="253.6">120</text><text x="553.3" y="253.6">108</text><text x="565.6" y="253.6">116</text><text x="577.9" y="253.6">115</text><text x="590.2" y="253.6">119</text><text x="602.5" y="253.6">112</text><text x="614.9" y="253.6">101</text><text x="627.2" y="253.6">118</text><text x="639.5" y="253.6">119</text><text x="651.8" y="253.6">123</text><text x="664.1" y="253.6">146</text><text x="676.5" y="253.6">124</text><text x="688.8" y="253.6">135</text><text x="701.1" y="253.6">149</text><text x="713.4" y="253.6">164</text><text x="725.7" y="253.6">147</text><text x="738.0" y="253.6">160</text><text x="750.4" y="253.6">105</text><text x="762.7" y="253.6">105</text><text x="775.0" y="253.6">112</text><text x="787.3" y="253.6">104</text><text x="799.6" y="253.6">86</text><text x="812.0" y="253.6">101</text><text x="824.3" y="253.6">115</text><text x="836.6" y="253.6">105</text><text x="848.9" y="253.6">98</text>
<text x="183.7" y="267.8">81</text><text x="196.0" y="267.8">206</text><text x="208.3" y="267.8">145</text><text x="220.6" y="267.8">205</text><text x="233.0" y="267.8">194</text><text x="245.3" y="267.8">127</text><text x="257.6" y="267.8">118</text><text x="269.9" y="267.8">124</text><text x="282.2" y="267.8">125</text><text x="294.5" y="267.8">127</text><text x="405.4" y="267.8">73</text><text x="417.7" y="267.8">71</text><text x="467.0" y="267.8">80</text><text x="479.3" y="267.8">91</text><text x="491.7" y="267.8">89</text><text x="504.0" y="267.8">93</text><text x="516.3" y="267.8">73</text><text x="528.6" y="267.8">78</text><text x="540.9" y="267.8">89</text><text x="553.3" y="267.8">103</text><text x="565.6" y="267.8">119</text><text x="577.9" y="267.8">115</text><text x="590.2" y="267.8">112</text><text x="602.5" y="267.8">111</text><text x="614.9" y="267.8">107</text><text x="627.2" y="267.8">116</text><text x="639.5" y="267.8">116</text><text x="651.8" y="267.8">126</text><text x="664.1" y="267.8">154</text><text x="676.5" y="267.8">175</text><text x="688.8" y="267.8">175</text><text x="701.1" y="267.8">206</text><text x="713.4" y="267.8">133</text><text x="725.7" y="267.8">119</text><text x="738.0" y="267.8">101</text><text x="750.4" y="267.8">114</text><text x="762.7" y="267.8">90</text><text x="775.0" y="267.8">88</text><text x="787.3" y="267.8">91</text><text x="799.6" y="267.8">98</text><text x="812.0" y="267.8">57</text><text x="824.3" y="267.8">99</text><text x="836.6" y="267.8">121</text>
<text x="196.0" y="282.1">89</text><text x="208.3" y="282.1">190</text><text x="220.6" y="282.1">165</text><text x="233.0" y="282.1">151</text><text x="245.3" y="282.1">121</text><text x="257.6" y="282.1">105</text><text x="269.9" y="282.1">112</text><text x="282.2" y="282.1">124</text><text x="331.5" y="282.1">73</text><text x="442.4" y="282.1">68</text><text x="467.0" y="282.1">80</text><text x="479.3" y="282.1">107</text><text x="491.7" y="282.1">118</text><text x="504.0" y="282.1">137</text><text x="516.3" y="282.1">84</text><text x="528.6" y="282.1">87</text><text x="540.9" y="282.1">91</text><text x="553.3" y="282.1">81</text><text x="565.6" y="282.1">95</text><text x="577.9" y="282.1">89</text><text x="590.2" y="282.1">125</text><text x="602.5" y="282.1">126</text><text x="614.9" y="282.1">116</text><text x="627.2" y="282.1">118</text><text x="639.5" y="282.1">86</text><text x="651.8" y="282.1">114</text><text x="664.1" y="282.1">124</text><text x="676.5" y="282.1">129</text><text x="688.8" y="282.1">180</text><text x="701.1" y="282.1">192</text><text x="713.4" y="282.1">171</text><text x="725.7" y="282.1">143</text><text x="738.0" y="282.1">124</text><text x="750.4" y="282.1">100</text><text x="762.7" y="282.1">86</text><text x="775.0" y="282.1">84</text><text x="787.3" y="282.1">74</text><text x="799.6" y="282.1">70</text><text x="812.0" y="282.1">76</text><text x="824.3" y="282.1">77</text>
<text x="48.2" y="296.3">73</text><text x="196.0" y="296.3">74</text><text x="208.3" y="296.3">80</text><text x="220.6" y="296.3">88</text><text x="233.0" y="296.3">90</text><text x="245.3" y="296.3">94</text><text x="257.6" y="296.3">90</text><text x="282.2" y="296.3">100</text><text x="294.5" y="296.3">72</text><text x="442.4" y="296.3">74</text><text x="454.7" y="296.3">69</text><text x="467.0" y="296.3">159</text><text x="479.3" y="296.3">184</text><text x="491.7" y="296.3">183</text><text x="504.0" y="296.3">171</text><text x="528.6" y="296.3">130</text><text x="540.9" y="296.3">118</text><text x="553.3" y="296.3">88</text><text x="565.6" y="296.3">118</text><text x="577.9" y="296.3">116</text><text x="590.2" y="296.3">122</text><text x="602.5" y="296.3">128</text><text x="614.9" y="296.3">115</text><text x="627.2" y="296.3">108</text><text x="639.5" y="296.3">125</text><text x="651.8" y="296.3">135</text><text x="664.1" y="296.3">127</text><text x="676.5" y="296.3">122</text><text x="688.8" y="296.3">106</text><text x="701.1" y="296.3">147</text><text x="713.4" y="296.3">140</text><text x="725.7" y="296.3">106</text><text x="738.0" y="296.3">123</text><text x="750.4" y="296.3">88</text><text x="762.7" y="296.3">91</text><text x="775.0" y="296.3">97</text><text x="787.3" y="296.3">68</text><text x="799.6" y="296.3">28</text><text x="836.6" y="296.3">35</text>
<text x="97.4" y="310.5">76</text><text x="208.3" y="310.5">111</text><text x="220.6" y="310.5">93</text><text x="233.0" y="310.5">104</text><text x="245.3" y="310.5">84</text><text x="269.9" y="310.5">64</text><text x="282.2" y="310.5">72</text><text x="294.5" y="310.5">73</text><text x="306.9" y="310.5">67</text><text x="442.4" y="310.5">66</text><text x="454.7" y="310.5">128</text><text x="491.7" y="310.5">168</text><text x="504.0" y="310.5">197</text><text x="540.9" y="310.5">140</text><text x="577.9" y="310.5">131</text><text x="590.2" y="310.5">94</text><text x="602.5" y="310.5">122</text><text x="614.9" y="310.5">119</text><text x="627.2" y="310.5">108</text><text x="651.8" y="310.5">104</text><text x="664.1" y="310.5">84</text><text x="676.5" y="310.5">104</text><text x="688.8" y="310.5">108</text><text x="701.1" y="310.5">102</text><text x="713.4" y="310.5">81</text><text x="725.7" y="310.5">111</text><text x="738.0" y="310.5">122</text><text x="750.4" y="310.5">78</text><text x="762.7" y="310.5">74</text><text x="775.0" y="310.5">73</text><text x="787.3" y="310.5">70</text><text x="861.2" y="310.5">79</text>
<text x="97.4" y="324.7">70</text><text x="208.3" y="324.7">101</text><text x="233.0" y="324.7">92</text><text x="245.3" y="324.7">86</text><text x="257.6" y="324.7">72</text><text x="269.9" y="324.7">80</text><text x="282.2" y="324.7">76</text><text x="294.5" y="324.7">84</text><text x="306.9" y="324.7">66</text><text x="319.2" y="324.7">77</text><text x="331.5" y="324.7">81</text><text x="430.1" y="324.7">51</text><text x="442.4" y="324.7">107</text><text x="454.7" y="324.7">139</text><text x="467.0" y="324.7">143</text><text x="479.3" y="324.7">164</text><text x="491.7" y="324.7">166</text><text x="504.0" y="324.7">172</text><text x="516.3" y="324.7">201</text><text x="577.9" y="324.7">107</text><text x="590.2" y="324.7">92</text><text x="602.5" y="324.7">133</text><text x="614.9" y="324.7">99</text><text x="664.1" y="324.7">85</text><text x="676.5" y="324.7">96</text><text x="688.8" y="324.7">94</text><text x="713.4" y="324.7">81</text><text x="725.7" y="324.7">86</text><text x="738.0" y="324.7">83</text><text x="750.4" y="324.7">78</text><text x="762.7" y="324.7">78</text><text x="775.0" y="324.7">54</text><text x="787.3" y="324.7">70</text><text x="898.2" y="324.7">67</text>
<text x="257.6" y="338.9">93</text><text x="269.9" y="338.9">93</text><text x="282.2" y="338.9">79</text><text x="294.5" y="338.9">73</text><text x="306.9" y="338.9">67</text><text x="319.2" y="338.9">59</text><text x="331.5" y="338.9">70</text><text x="343.8" y="338.9">75</text><text x="442.4" y="338.9">81</text><text x="454.7" y="338.9">132</text><text x="467.0" y="338.9">146</text><text x="479.3" y="338.9">135</text><text x="491.7" y="338.9">116</text><text x="504.0" y="338.9">166</text><text x="516.3" y="338.9">140</text><text x="528.6" y="338.9">157</text><text x="540.9" y="338.9">135</text><text x="553.3" y="338.9">187</text><text x="565.6" y="338.9">197</text><text x="577.9" y="338.9">90</text><text x="590.2" y="338.9">81</text><text x="602.5" y="338.9">85</text><text x="664.1" y="338.9">81</text><text x="676.5" y="338.9">82</text><text x="688.8" y="338.9">80</text><text x="713.4" y="338.9">79</text><text x="725.7" y="338.9">81</text><text x="738.0" y="338.9">80</text><text x="750.4" y="338.9">74</text><text x="787.3" y="338.9">65</text><text x="799.6" y="338.9">55</text><text x="836.6" y="338.9">52</text>
<text x="282.2" y="353.2">98</text><text x="294.5" y="353.2">62</text><text x="306.9" y="353.2">77</text><text x="319.2" y="353.2">78</text><text x="331.5" y="353.2">48</text><text x="343.8" y="353.2">78</text><text x="356.1" y="353.2">70</text><text x="454.7" y="353.2">69</text><text x="467.0" y="353.2">58</text><text x="479.3" y="353.2">50</text><text x="491.7" y="353.2">68</text><text x="504.0" y="353.2">77</text><text x="516.3" y="353.2">84</text><text x="528.6" y="353.2">86</text><text x="540.9" y="353.2">88</text><text x="553.3" y="353.2">92</text><text x="565.6" y="353.2">165</text><text x="577.9" y="353.2">87</text><text x="590.2" y="353.2">88</text><text x="602.5" y="353.2">123</text><text x="664.1" y="353.2">80</text><text x="676.5" y="353.2">59</text><text x="688.8" y="353.2">52</text><text x="713.4" y="353.2">80</text><text x="725.7" y="353.2">76</text><text x="738.0" y="353.2">74</text><text x="750.4" y="353.2">70</text><text x="775.0" y="353.2">66</text><text x="787.3" y="353.2">63</text><text x="799.6" y="353.2">57</text><text x="812.0" y="353.2">53</text><text x="824.3" y="353.2">67</text><text x="861.2" y="353.2">49</text><text x="873.6" y="353.2">60</text><text x="898.2" y="353.2">47</text><text x="910.5" y="353.2">46</text>
<text x="97.4" y="367.4">59</text><text x="294.5" y="367.4">78</text><text x="306.9" y="367.4">82</text><text x="331.5" y="367.4">77</text><text x="343.8" y="367.4">83</text><text x="356.1" y="367.4">66</text><text x="467.0" y="367.4">51</text><text x="479.3" y="367.4">52</text><text x="504.0" y="367.4">68</text><text x="516.3" y="367.4">70</text><text x="528.6" y="367.4">90</text><text x="540.9" y="367.4">95</text><text x="553.3" y="367.4">61</text><text x="565.6" y="367.4">86</text><text x="577.9" y="367.4">83</text><text x="590.2" y="367.4">100</text><text x="602.5" y="367.4">82</text><text x="664.1" y="367.4">55</text><text x="725.7" y="367.4">72</text><text x="738.0" y="367.4">63</text><text x="750.4" y="367.4">63</text><text x="762.7" y="367.4">58</text><text x="775.0" y="367.4">67</text><text x="787.3" y="367.4">75</text><text x="799.6" y="367.4">68</text><text x="910.5" y="367.4">64</text>
<text x="282.2" y="381.6">76</text><text x="294.5" y="381.6">86</text><text x="306.9" y="381.6">68</text><text x="319.2" y="381.6">71</text><text x="331.5" y="381.6">62</text><text x="343.8" y="381.6">76</text><text x="356.1" y="381.6">66</text><text x="368.5" y="381.6">75</text><text x="380.8" y="381.6">55</text><text x="393.1" y="381.6">76</text><text x="405.4" y="381.6">69</text><text x="504.0" y="381.6">56</text><text x="516.3" y="381.6">68</text><text x="528.6" y="381.6">70</text><text x="540.9" y="381.6">65</text><text x="553.3" y="381.6">87</text><text x="565.6" y="381.6">92</text><text x="577.9" y="381.6">86</text><text x="590.2" y="381.6">76</text><text x="627.2" y="381.6">69</text><text x="738.0" y="381.6">63</text><text x="750.4" y="381.6">65</text><text x="762.7" y="381.6">71</text><text x="775.0" y="381.6">70</text><text x="787.3" y="381.6">64</text><text x="799.6" y="381.6">69</text><text x="812.0" y="381.6">55</text><text x="824.3" y="381.6">55</text><text x="836.6" y="381.6">46</text><text x="848.9" y="381.6">73</text><text x="861.2" y="381.6">72</text><text x="922.8" y="381.6">67</text>
<text x="60.5" y="395.8">93</text><text x="97.4" y="395.8">74</text><text x="146.7" y="395.8">79</text><text x="282.2" y="395.8">94</text><text x="294.5" y="395.8">80</text><text x="306.9" y="395.8">68</text><text x="319.2" y="395.8">96</text><text x="331.5" y="395.8">96</text><text x="343.8" y="395.8">69</text><text x="356.1" y="395.8">88</text><text x="368.5" y="395.8">86</text><text x="380.8" y="395.8">77</text><text x="393.1" y="395.8">77</text><text x="405.4" y="395.8">77</text><text x="454.7" y="395.8">77</text><text x="516.3" y="395.8">68</text><text x="528.6" y="395.8">81</text><text x="540.9" y="395.8">76</text><text x="553.3" y="395.8">96</text><text x="565.6" y="395.8">108</text><text x="577.9" y="395.8">77</text><text x="664.1" y="395.8">53</text><text x="750.4" y="395.8">75</text><text x="762.7" y="395.8">71</text><text x="775.0" y="395.8">77</text><text x="787.3" y="395.8">76</text><text x="799.6" y="395.8">71</text><text x="812.0" y="395.8">77</text><text x="836.6" y="395.8">48</text><text x="848.9" y="395.8">66</text><text x="873.6" y="395.8">64</text><text x="885.9" y="395.8">64</text><text x="922.8" y="395.8">65</text>
<text x="48.2" y="410.1">65</text><text x="60.5" y="410.1">80</text><text x="72.8" y="410.1">70</text><text x="85.1" y="410.1">66</text><text x="122.1" y="410.1">75</text><text x="306.9" y="410.1">133</text><text x="319.2" y="410.1">70</text><text x="331.5" y="410.1">62</text><text x="343.8" y="410.1">144</text><text x="356.1" y="410.1">109</text><text x="368.5" y="410.1">104</text><text x="380.8" y="410.1">84</text><text x="393.1" y="410.1">82</text><text x="516.3" y="410.1">68</text><text x="528.6" y="410.1">77</text><text x="540.9" y="410.1">141</text><text x="553.3" y="410.1">128</text><text x="565.6" y="410.1">118</text><text x="577.9" y="410.1">73</text><text x="590.2" y="410.1">80</text><text x="602.5" y="410.1">80</text><text x="614.9" y="410.1">81</text><text x="627.2" y="410.1">78</text><text x="725.7" y="410.1">61</text><text x="787.3" y="410.1">67</text><text x="812.0" y="410.1">105</text><text x="824.3" y="410.1">74</text><text x="836.6" y="410.1">75</text><text x="861.2" y="410.1">72</text><text x="885.9" y="410.1">67</text><text x="898.2" y="410.1">76</text><text x="922.8" y="410.1">70</text>
<text x="48.2" y="424.3">79</text><text x="60.5" y="424.3">75</text><text x="72.8" y="424.3">81</text><text x="85.1" y="424.3">69</text><text x="97.4" y="424.3">57</text><text x="109.8" y="424.3">76</text><text x="122.1" y="424.3">80</text><text x="134.4" y="424.3">73</text><text x="306.9" y="424.3">111</text><text x="319.2" y="424.3">91</text><text x="331.5" y="424.3">55</text><text x="343.8" y="424.3">83</text><text x="356.1" y="424.3">115</text><text x="368.5" y="424.3">83</text><text x="380.8" y="424.3">80</text><text x="393.1" y="424.3">79</text><text x="467.0" y="424.3">46</text><text x="516.3" y="424.3">60</text><text x="528.6" y="424.3">148</text><text x="540.9" y="424.3">132</text><text x="553.3" y="424.3">145</text><text x="565.6" y="424.3">105</text><text x="577.9" y="424.3">77</text><text x="590.2" y="424.3">81</text><text x="602.5" y="424.3">79</text><text x="614.9" y="424.3">80</text><text x="627.2" y="424.3">79</text><text x="639.5" y="424.3">74</text><text x="787.3" y="424.3">111</text><text x="799.6" y="424.3">131</text><text x="812.0" y="424.3">192</text><text x="824.3" y="424.3">98</text><text x="836.6" y="424.3">140</text><text x="848.9" y="424.3">76</text><text x="898.2" y="424.3">77</text><text x="922.8" y="424.3">84</text>
<text x="48.2" y="438.5">74</text><text x="97.4" y="438.5">75</text><text x="122.1" y="438.5">73</text><text x="146.7" y="438.5">71</text><text x="159.0" y="438.5">69</text><text x="306.9" y="438.5">96</text><text x="319.2" y="438.5">94</text><text x="331.5" y="438.5">68</text><text x="343.8" y="438.5">96</text><text x="356.1" y="438.5">81</text><text x="368.5" y="438.5">91</text><text x="380.8" y="438.5">81</text><text x="417.7" y="438.5">77</text><text x="516.3" y="438.5">46</text><text x="528.6" y="438.5">163</text><text x="540.9" y="438.5">117</text><text x="553.3" y="438.5">137</text><text x="565.6" y="438.5">159</text><text x="577.9" y="438.5">79</text><text x="590.2" y="438.5">80</text><text x="602.5" y="438.5">77</text><text x="627.2" y="438.5">77</text><text x="762.7" y="438.5">138</text><text x="775.0" y="438.5">156</text><text x="812.0" y="438.5">203</text><text x="824.3" y="438.5">201</text><text x="836.6" y="438.5">134</text><text x="848.9" y="438.5">90</text><text x="861.2" y="438.5">70</text><text x="885.9" y="438.5">85</text><text x="898.2" y="438.5">86</text>
<text x="48.2" y="452.7">69</text><text x="134.4" y="452.7">73</text><text x="220.6" y="452.7">80</text><text x="306.9" y="452.7">83</text><text x="319.2" y="452.7">134</text><text x="331.5" y="452.7">91</text><text x="343.8" y="452.7">98</text><text x="356.1" y="452.7">87</text><text x="368.5" y="452.7">84</text><text x="528.6" y="452.7">135</text><text x="540.9" y="452.7">158</text><text x="553.3" y="452.7">145</text><text x="565.6" y="452.7">74</text><text x="602.5" y="452.7">80</text><text x="762.7" y="452.7">106</text><text x="775.0" y="452.7">178</text><text x="787.3" y="452.7">139</text><text x="799.6" y="452.7">198</text><text x="812.0" y="452.7">203</text><text x="824.3" y="452.7">169</text><text x="836.6" y="452.7">145</text><text x="848.9" y="452.7">154</text><text x="861.2" y="452.7">91</text><text x="898.2" y="452.7">68</text>
<text x="294.5" y="466.9">94</text><text x="306.9" y="466.9">109</text><text x="319.2" y="466.9">133</text><text x="331.5" y="466.9">104</text><text x="343.8" y="466.9">90</text><text x="356.1" y="466.9">84</text><text x="528.6" y="466.9">90</text><text x="540.9" y="466.9">106</text><text x="553.3" y="466.9">112</text><text x="565.6" y="466.9">50</text><text x="775.0" y="466.9">97</text><text x="787.3" y="466.9">130</text><text x="799.6" y="466.9">132</text><text x="812.0" y="466.9">122</text><text x="824.3" y="466.9">143</text><text x="836.6" y="466.9">150</text><text x="848.9" y="466.9">145</text><text x="861.2" y="466.9">94</text><text x="910.5" y="466.9">44</text>
<text x="306.9" y="481.2">67</text><text x="319.2" y="481.2">134</text><text x="331.5" y="481.2">93</text><text x="343.8" y="481.2">91</text><text x="676.5" y="481.2">84</text><text x="824.3" y="481.2">64</text><text x="836.6" y="481.2">99</text><text x="848.9" y="481.2">118</text><text x="861.2" y="481.2">76</text><text x="910.5" y="481.2">93</text><text x="922.8" y="481.2">98</text>
<text x="48.2" y="495.4">57</text><text x="306.9" y="495.4">84</text><text x="319.2" y="495.4">126</text><text x="331.5" y="495.4">108</text><text x="467.0" y="495.4">71</text><text x="848.9" y="495.4">103</text><text x="898.2" y="495.4">124</text><text x="910.5" y="495.4">106</text><text x="922.8" y="495.4">96</text>
<text x="306.9" y="509.6">102</text><text x="319.2" y="509.6">113</text><text x="577.9" y="509.6">65</text><text x="614.9" y="509.6">60</text><text x="664.1" y="509.6">80</text><text x="898.2" y="509.6">79</text><text x="910.5" y="509.6">103</text>
<text x="300.7" y="523.8">71</text><text x="325.3" y="523.8">104</text><text x="350.0" y="523.8">84</text><text x="867.4" y="523.8">53</text><text x="892.0" y="523.8">57</text>
<text x="325.3" y="552.3">72</text><text x="350.0" y="552.3">63</text><text x="374.6" y="552.3">47</text>
<text x="325.3" y="566.5">109</text><text x="596.4" y="566.5">61</text><text x="645.7" y="566.5">91</text><text x="670.3" y="566.5">83</text><text x="768.8" y="566.5">64</text><text x="842.8" y="566.5">91</text>
<text x="411.6" y="594.9">64</text>
</g>
<g class="z" text-anchor="middle">
<text x="974.5" y="140.7">88</text><text x="974.5" y="155.0">69</text><text x="974.5" y="169.2">77</text><text x="974.5" y="183.4">101</text><text x="974.5" y="197.6">120</text><text x="974.5" y="211.8">115</text><text x="974.5" y="226.1">117</text><text x="974.5" y="240.3">121</text><text x="974.5" y="254.5">127</text><text x="974.5" y="268.7">128</text><text x="974.5" y="283.0">124</text><text x="974.5" y="297.2">117</text><text x="974.5" y="311.4">106</text><text x="974.5" y="325.6">88</text><text x="974.5" y="339.8">95</text><text x="974.5" y="354.1">78</text><text x="974.5" y="368.3">77</text><text x="974.5" y="382.5">71</text><text x="974.5" y="396.7">80</text><text x="974.5" y="411.0">99</text><text x="974.5" y="425.2">105</text><text x="974.5" y="439.4">126</text><text x="974.5" y="453.6">134</text><text x="974.5" y="467.8">117</text><text x="974.5" y="482.1">99</text><text x="974.5" y="496.3">106</text><text x="974.5" y="510.5">101</text><text x="974.5" y="524.7">79</text><text x="974.5" y="553.2">70</text><text x="974.5" y="567.4">86</text><text x="974.5" y="595.8">64</text>
</g>
</svg>
</body></html>
